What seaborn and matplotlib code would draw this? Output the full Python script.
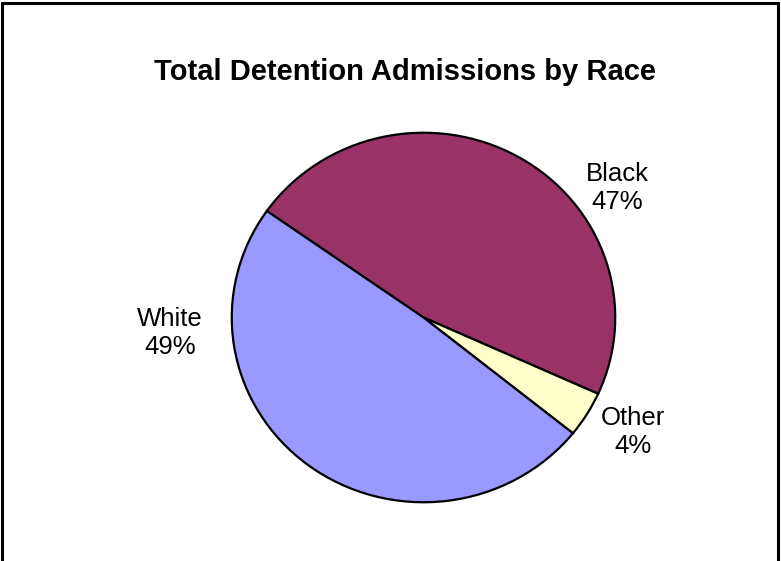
import matplotlib
matplotlib.use("Agg")
import matplotlib.pyplot as plt
from matplotlib.patches import Rectangle
import seaborn as sns

# Share of total detention admissions by race (percent)
races = ["Black", "Other", "White"]
shares = [47, 4, 49]
slice_colors = ["#993366", "#FFFFCC", "#9999FF"]
title = "Total Detention Admissions by Race"

sns.set_theme(style="white")
plt.rcParams["font.family"] = ["Liberation Sans", "DejaVu Sans"]

W, H = 781, 561
fig = plt.figure(figsize=(W / 100, H / 100), dpi=100)
fig.patch.set_facecolor("white")

# Pie area in pixels: slightly wider than tall
left, right, top, bottom = 231, 616, 132, 503
ax = fig.add_axes([left / W, 1 - bottom / H, (right - left) / W, (bottom - top) / H])
ax.pie(
    shares,
    colors=slice_colors,
    startangle=144.8,
    counterclock=False,
    radius=1.0,
    wedgeprops=dict(edgecolor="black", linewidth=1.6),
    frame=True,
)
ax.set_aspect("auto")
ax.set_xlim(-1.004, 1.004)
ax.set_ylim(-1.004, 1.004)
ax.axis("off")


def px(x, y):
    return x / W, 1 - y / H


# Category labels with percentages
label_pos = {"Black": (617, 188), "Other": (633, 432), "White": (170, 333)}
for name, val in zip(races, shares):
    fx, fy = px(*label_pos[name])
    fig.text(fx, fy, f"{name}\n{val}%", ha="center", va="center",
             fontsize=18.5, color="black", linespacing=1.25)

tx, ty = px(405, 72)
fig.text(tx, ty, title, ha="center", va="center",
         fontsize=21, fontweight="bold", color="black")

# Chart frame (bottom edge runs off the canvas)
fig.patches.append(Rectangle((2 / W, -0.1), (778 - 2) / W, 1.1 - 3 / H,
                             transform=fig.transFigure, fill=False,
                             edgecolor="black", linewidth=2.2))

fig.savefig("out.png", dpi=100, facecolor="white")
